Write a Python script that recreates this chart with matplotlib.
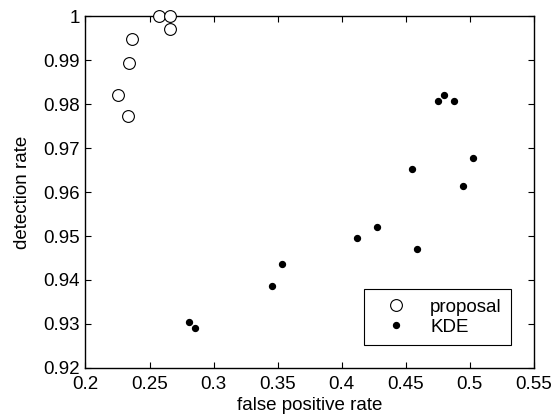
import numpy as np
import matplotlib
matplotlib.use("Agg")
import matplotlib.pyplot as plt

plt.rcParams["font.family"] = ["Liberation Sans", "DejaVu Sans"]

# proposal method (open circles)
prop_fpr = [0.2574, 0.2660, 0.2660, 0.2363, 0.2340, 0.2256, 0.2330]
prop_det = [1.0000, 1.0000, 0.9972, 0.9949, 0.9894, 0.9821, 0.9774]

# KDE (small dots)
kde_fpr = [0.4748, 0.4795, 0.4877, 0.5026, 0.4545, 0.4943, 0.4122,
           0.4276, 0.4591, 0.3534, 0.3453, 0.2807, 0.2854]
kde_det = [0.9807, 0.9821, 0.9807, 0.9677, 0.9653, 0.9615, 0.9495,
           0.9520, 0.9471, 0.9437, 0.9386, 0.9305, 0.9290]

xticks = [0.2, 0.25, 0.3, 0.35, 0.4, 0.45, 0.5, 0.55]
yticks = [0.92, 0.93, 0.94, 0.95, 0.96, 0.97, 0.98, 0.99, 1.0]

fig = plt.figure(figsize=(5.55, 4.19), dpi=100)
ax = fig.add_axes([0.154, 0.122, 0.808, 0.839])

ax.plot(prop_fpr, prop_det, 'o', mfc='white', mec='black', mew=0.8,
        ms=8.5, linestyle='none', label='proposal', clip_on=False, zorder=3)
ax.plot(kde_fpr, kde_det, '.', color='black', ms=8.5,
        linestyle='none', label='KDE', zorder=3)

ax.set_xlim(0.2, 0.55)
ax.set_ylim(0.92, 1.0)
ax.set_xticks(xticks)
ax.set_xticklabels(["0.2", "0.25", "0.3", "0.35", "0.4", "0.45", "0.5", "0.55"])
ax.set_yticks(yticks)
ax.set_yticklabels(["0.92", "0.93", "0.94", "0.95", "0.96", "0.97", "0.98", "0.99", "1"])
ax.tick_params(direction='in', top=True, right=True, length=4, width=0.8,
               labelsize=13.5)
ax.tick_params(axis='y', pad=4)
ax.tick_params(axis='x', pad=6)
for s in ax.spines.values():
    s.set_linewidth(1.0)

ax.set_xlabel("false positive rate", fontsize=13.5, labelpad=3)
ax.set_ylabel("detection rate", fontsize=13.5, labelpad=9)

leg = ax.legend(loc='lower right', bbox_to_anchor=(0.949, 0.065),
                fontsize=13.5, fancybox=False, framealpha=1,
                edgecolor='black', handletextpad=0.6, borderpad=0.5,
                labelspacing=0.15, handlelength=2.4, borderaxespad=0)
leg.get_frame().set_linewidth(0.8)

fig.savefig("out.png", dpi=100)
